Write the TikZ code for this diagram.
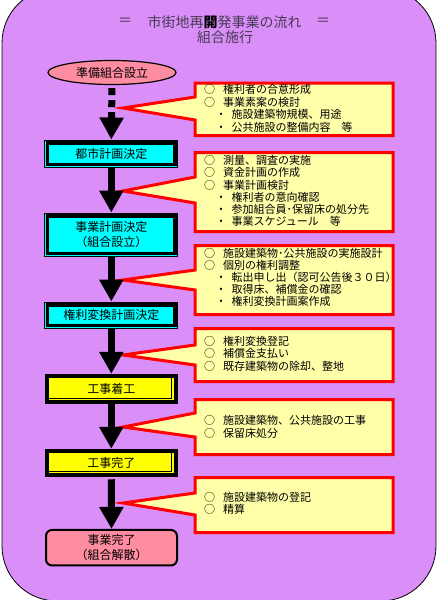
\documentclass[tikz,border=0pt]{standalone}
\usepackage{fontspec}
\newfontfamily\jp{Noto Sans CJK JP}
\usetikzlibrary{arrows.meta,shapes.geometric}
\definecolor{bgpurple}{RGB}{218,142,248}
\definecolor{cyellow}{RGB}{255,255,170}
\definecolor{boxcyan}{RGB}{0,255,255}
\definecolor{boxyellow}{RGB}{255,255,0}
\definecolor{boxpink}{RGB}{255,140,160}
\definecolor{titlecol}{RGB}{70,58,84}
\newcommand\mainline[3]{\node[ltext] (#1) at (204,#2) {○\hspace{8pt}#3};}
\newcommand\subline[3]{\node[ltext] (#1) at (215.5,#2) {・\hspace{5pt}#3};}
\newcommand\callout[5]{\draw[callout] (195,#2) -- (393,#2) -- (393,#3) -- (195,#3) -- (195,#5) -- (#1) -- (195,#4) -- cycle;}
\begin{document}
\begin{tikzpicture}[x=1pt,y=-1pt,font=\jp,
  callout/.style={draw=red,fill=cyellow,line width=3pt,miter limit=20},
  ltext/.style={anchor=west,inner sep=0pt,font=\jp\fontsize{11}{12}\selectfont,text=black},
  cyanbox/.style={draw,line width=1pt,fill=boxcyan,minimum width=133pt,font=\jp\fontsize{12}{15}\selectfont,align=center,inner sep=0pt},
  yelbox/.style={draw,line width=4pt,fill=boxyellow,minimum width=128.5pt,font=\jp\fontsize{12}{15}\selectfont,align=center,inner sep=0pt},
  pinkbox/.style={draw,line width=2pt,fill=boxpink,rounded corners=6pt,minimum width=131pt,font=\jp\fontsize{12}{15}\selectfont,align=center,inner sep=0pt},
  fatarrow/.style={line width=7pt,-{Triangle[width=23pt,length=22pt]}},
  ttl/.style={font=\jp\fontsize{14}{16}\selectfont,text=titlecol,inner sep=0pt}]
\useasboundingbox (0,0) rectangle (440,600);
\begin{scope}
\clip (0,0) rectangle (440,600);
\fill[bgpurple] (2,-12) [rounded corners=55pt] rectangle (436,601);
\draw[line width=0.8pt] (2,-12) [rounded corners=55pt] rectangle (436,601);
\end{scope}
% title
\node[ttl] (eq1) at (125,22) {＝};
\node[ttl] (eq2) at (323,22) {＝};
\node[ttl] (ttl1) at (224.5,22) {市街地再{\bfseries\color{black}開}発事業の流れ};
\node[ttl] (ttl2) at (225,37) {組合施行};
% callout tips
\coordinate (t1) at (123,108);
\coordinate (t2) at (123,191);
\coordinate (t3) at (123,280);
\coordinate (t4) at (123,355);
\coordinate (t5) at (123,427);
\coordinate (t6) at (123,503);
\callout{t1}{83}{135.5}{97}{120}
\callout{t2}{152.5}{231.5}{177}{203}
\callout{t3}{245.5}{314.5}{270}{290}
\callout{t4}{328.5}{381.5}{345}{365}
\callout{t5}{399.5}{454.5}{413}{437}
\callout{t6}{477.5}{532.5}{493}{515}
% callout texts
\mainline{c1a}{89}{権利者の合意形成}
\mainline{c1b}{102}{事業素案の検討}
\subline{c1c}{114.5}{施設建築物規模、用途}
\subline{c1d}{127}{公共施設の整備内容　等}
\mainline{c2a}{160}{測量、調査の実施}
\mainline{c2b}{172.5}{資金計画の作成}
\mainline{c2c}{185}{事業計画検討}
\subline{c2d}{197}{権利者の意向確認}
\subline{c2e}{209}{参加組合員･保留床の処分先}
\subline{c2f}{221}{事業スケジュール　等}
\mainline{c3a}{253}{施設建築物･公共施設の実施設計}
\mainline{c3b}{265}{個別の権利調整}
\subline{c3c}{277}{転出申し出（認可公告後３０日）}
\subline{c3d}{289}{取得床、補償金の確認}
\subline{c3e}{301}{権利変換計画案作成}
\mainline{c4a}{341.5}{権利変換登記}
\mainline{c4b}{353.5}{補償金支払い}
\mainline{c4c}{366}{既存建築物の除却、整地}
\mainline{c5a}{420.5}{施設建築物、公共施設の工事}
\mainline{c5b}{433}{保留床処分}
\mainline{c6a}{497}{施設建築物の登記}
\mainline{c6b}{509.5}{精算}
% start ellipse
\node[ellipse,draw,line width=1.2pt,fill=boxpink,minimum width=128pt,minimum height=24pt,inner sep=0pt,font=\jp\fontsize{12}{14}\selectfont] (e0) at (112,72.5) {準備組合設立};
% boxes
\node[cyanbox,minimum height=27pt] (b1) at (111.3,153.5) {都市計画決定};
\node[cyanbox,minimum height=43pt] (b2) at (111.3,234.5) {事業計画決定\\（組合設立）};
\node[cyanbox,minimum height=26pt] (b3) at (111.3,315) {権利変換計画決定};
\foreach \b in {b1,b2,b3}{
  \draw[line width=3.5pt] ([shift={(3.25,3.25)}]\b.north west) rectangle ([shift={(-3.25,-3.25)}]\b.south east);
}
\node[yelbox,minimum height=26.5pt] (b4) at (111.3,389) {工事着工};
\node[yelbox,minimum height=24.5pt] (b5) at (111.3,463) {工事完了};
\foreach \b in {b4,b5}{
  \draw[line width=0.8pt] ([shift={(-6,4)}]\b.north east) -- ([shift={(-6,-6)}]\b.south east) -- ([shift={(4,-6)}]\b.south west);
}
\node[pinkbox,minimum height=35.5pt] (b6) at (111.5,547.7) {事業完了\\（組合解散）};
% arrows
\draw[fatarrow,dash pattern=on 7pt off 5pt,shorten <=3pt] (e0.south) -- (b1.north);
\draw[fatarrow] (b1.south) -- (b2.north);
\draw[fatarrow] (b2.south) -- (b3.north);
\draw[fatarrow] (b3.south) -- (b4.north);
\draw[fatarrow] (b4.south) -- (b5.north);
\draw[fatarrow,shorten <=2pt] (b5.south) -- (b6.north);
\end{tikzpicture}
\end{document}
